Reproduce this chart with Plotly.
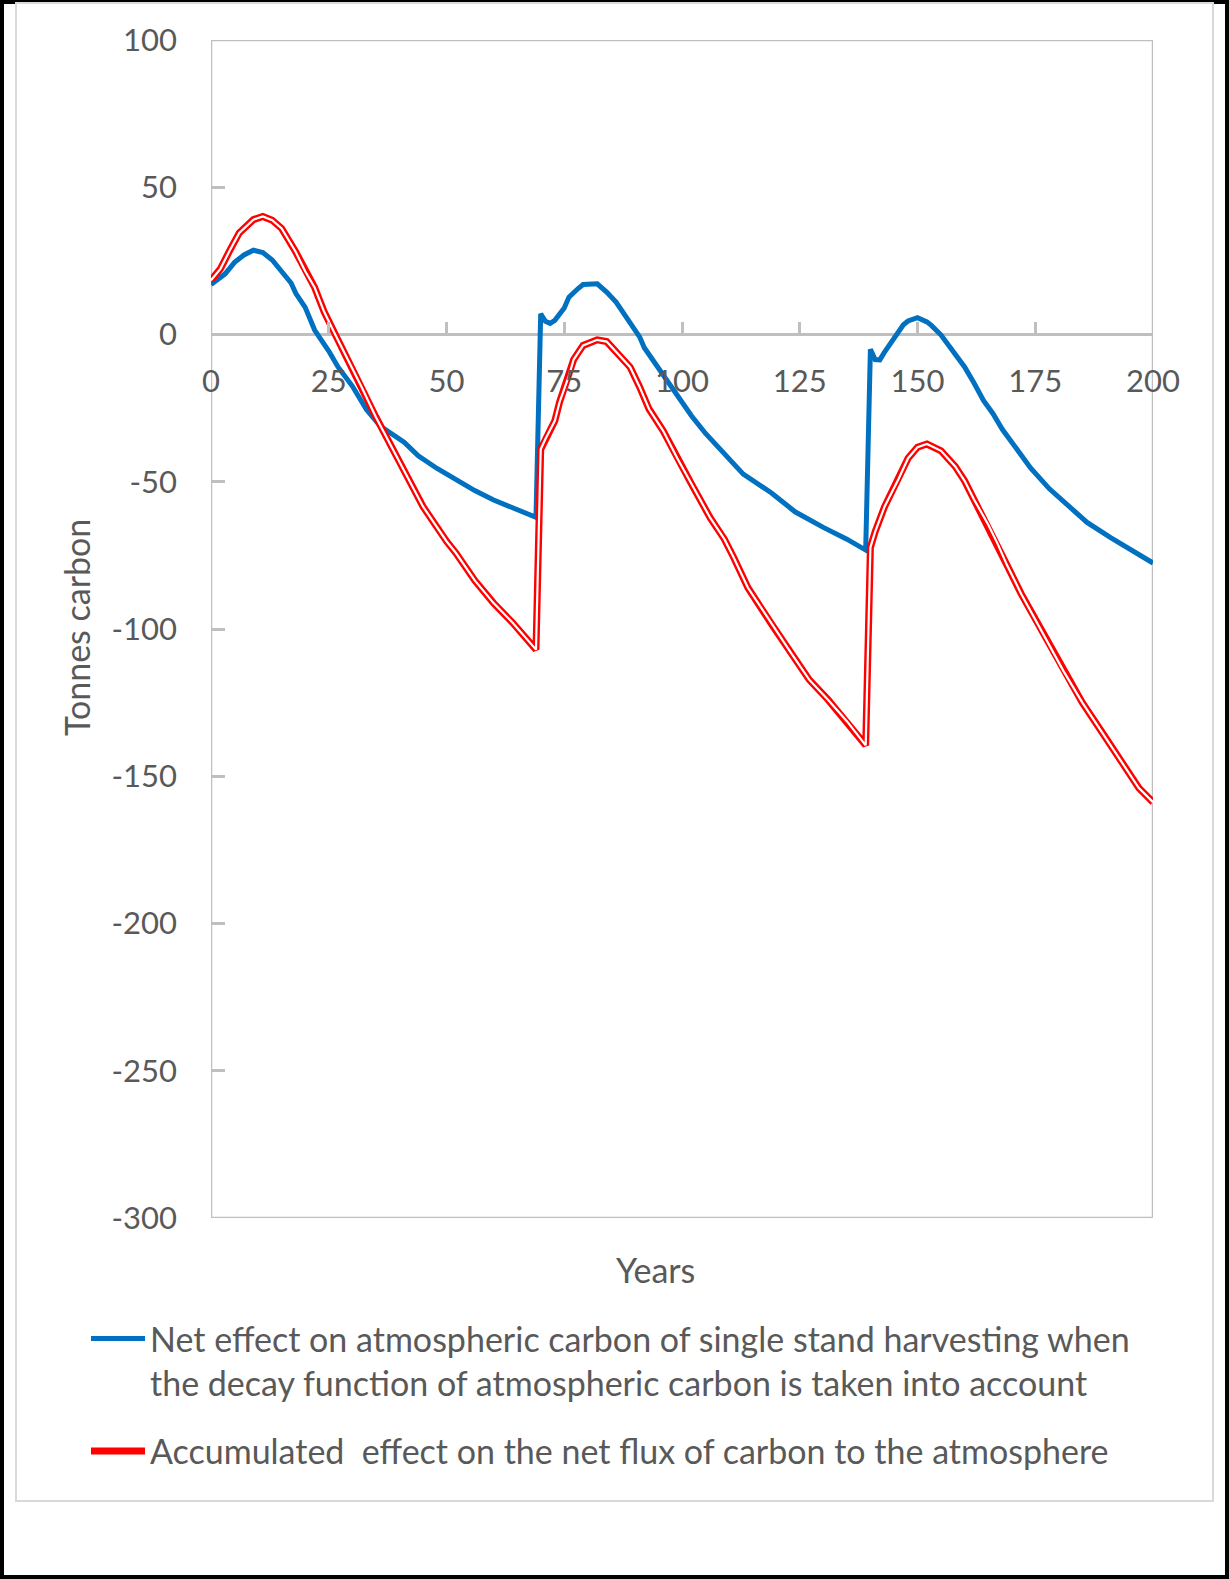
import plotly.graph_objects as go

# ---- data ----
net_years = [0, 3, 5, 7, 9, 11, 13, 15, 17, 18, 20, 22, 25, 27, 29, 30, 33, 36, 41, 44, 48, 52, 56, 60,
             63, 67, 69, 70, 71, 72, 73, 75, 76, 78, 79, 82, 84, 86, 89, 91, 92, 96, 99, 102, 105, 109,
             113, 119, 124, 130, 135, 139, 140, 141, 142, 143, 145, 147, 148, 150, 152, 153, 155, 157,
             160, 162, 164, 166, 168, 171, 174, 178, 182, 186, 191, 196, 200]
net_values = [17.0, 20.6, 24.5, 27.0, 28.6, 27.8, 25.3, 21.2, 17.5, 14.0, 9.2, 1.5, -5.6, -11.1, -15.0,
              -17.5, -25.5, -31.2, -36.6, -41.2, -45.5, -49.2, -53.0, -56.2, -58.2, -60.6, -62.1,
              7.0, 4.5, 3.8, 4.8, 9.0, 12.7, 15.7, 17.0, 17.2, 14.4, 11.0, 3.6, -0.8, -4.5, -13.9,
              -20.3, -27.6, -33.6, -40.8, -47.4, -53.8, -60.2, -65.5, -69.5, -73.2, -5.0, -8.5, -8.6,
              -6.0, -1.0, 3.3, 4.6, 5.7, 4.3, 3.0, -0.2, -4.8, -11.0, -16.5, -22.4, -26.8, -32.2,
              -38.7, -45.3, -52.4, -58.2, -63.8, -69.0, -73.7, -77.6]

acc_years = [0, 2, 4, 6, 9, 11, 13, 15, 18, 20, 22, 24, 26, 29, 31, 32, 35, 40, 45, 50, 52, 56, 60, 64,
             68, 69, 70, 71, 73, 74, 76, 77, 79, 82, 84, 86, 89, 91, 93, 96, 99, 102, 106, 109, 111,
             114, 119, 123, 127, 131, 135, 139, 140, 141, 143, 146, 148, 150, 152, 155, 158, 160, 162,
             165, 167, 169, 172, 177, 181, 185, 190, 194, 197, 200]
acc_values = [18.4, 22.3, 28.6, 34.5, 39.0, 40.1, 38.8, 36.0, 28.0, 21.5, 16.0, 7.8, 1.2, -8.2, -15.0,
              -17.9, -28.0, -43.2, -58.4, -70.2, -74.2, -83.5, -91.2, -97.8, -105.0, -107.0, -39.0,
              -35.5, -29.3, -23.0, -14.0, -8.5, -3.7, -1.8, -2.4, -6.0, -11.1, -17.8, -25.3, -32.7,
              -42.0, -50.7, -62.3, -69.5, -75.8, -86.0, -98.3, -107.8, -117.2, -124.0, -131.3, -139.5,
              -72.3, -67.0, -58.5, -49.0, -42.0, -38.3, -37.2, -39.5, -44.8, -49.7, -56.0, -64.5,
              -71.0, -78.3, -88.0, -102.5, -114.3, -125.0, -137.0, -146.8, -154.0, -158.8]

x_ticks = [0, 25, 50, 75, 100, 125, 150, 175, 200]
y_ticks = [100, 50, 0, -50, -100, -150, -200, -250, -300]

net_name = "Net effect on atmospheric carbon of single stand harvesting when<br>the decay function of atmospheric carbon is taken into account"
acc_name = "Accumulated  effect on the net flux of carbon to the atmosphere"

# ---- geometry (pixels) ----
W, H = 1229, 1579
L, R, T, B = 211, 1153, 40, 1218
pw, ph = R - L, B - T


def px(xp):
    return (xp - L) / pw


def py(yp):
    return (B - yp) / ph


FONT = "Lato"
GREY_TXT = "#595959"
AX = "#BFBFBF"

fig = go.Figure()
fig.add_trace(go.Scatter(x=net_years, y=net_values, mode="lines", name=net_name,
                         legendgroup="net",
                         line=dict(color="#0070C0", width=5)))
fig.add_trace(go.Scatter(x=acc_years, y=acc_values, mode="lines", name=acc_name,
                         legendgroup="acc",
                         line=dict(color="#FF0000", width=7)))
fig.add_trace(go.Scatter(x=acc_years, y=acc_values, mode="lines", showlegend=False,
                         legendgroup="acc", hoverinfo="skip",
                         line=dict(color="#FFFFFF", width=2.2)))

shapes = [
    # outer black frame
    dict(type="rect", xref="paper", yref="paper", x0=px(2), x1=px(1227), y0=py(1577), y1=py(2),
         line=dict(color="black", width=4), layer="below"),
    # chart-area border
    dict(type="rect", xref="paper", yref="paper", x0=px(16), x1=px(1213), y0=py(1501), y1=py(3),
         line=dict(color="#D9D9D9", width=2), layer="below"),
    # plot-area border
    dict(type="rect", xref="x", yref="y", x0=0, x1=200, y0=-300, y1=100,
         line=dict(color=AX, width=2.5), layer="below"),
]

annotations = [
    dict(text="Years", xref="paper", yref="paper", x=px(655), y=py(1269), showarrow=False,
         xanchor="center", yanchor="middle", font=dict(family=FONT, size=34, color=GREY_TXT)),
    dict(text="Tonnes carbon", xref="paper", yref="paper", x=px(76), y=py(628), showarrow=False,
         textangle=-90, xanchor="center", yanchor="middle",
         font=dict(family=FONT, size=34, color=GREY_TXT)),
]

fig.update_layout(
    width=W, height=H,
    margin=dict(l=L, r=W - R, t=T, b=H - B, autoexpand=False),
    paper_bgcolor="white", plot_bgcolor="white",
    font=dict(family=FONT, size=31, color=GREY_TXT),
    shapes=shapes, annotations=annotations,
    showlegend=True,
    legend=dict(x=px(86), y=py(1310), xanchor="left", yanchor="top",
                font=dict(family=FONT, size=34, color=GREY_TXT), valign="top",
                itemwidth=54, tracegroupgap=21, bgcolor="rgba(0,0,0,0)"),
    xaxis=dict(range=[0, 200], tickvals=x_ticks, ticktext=[str(v) for v in x_ticks],
               showgrid=False, zeroline=False, showline=False,
               anchor="free", position=0.75, ticks="inside", ticklen=13, tickwidth=2.5,
               tickcolor=AX, ticklabelstandoff=25,
               tickfont=dict(family=FONT, size=31, color=GREY_TXT)),
    yaxis=dict(range=[-300, 100], tickvals=y_ticks, ticktext=[str(v) for v in y_ticks],
               showgrid=False, zeroline=True, zerolinecolor=AX, zerolinewidth=2.5,
               showline=False, ticks="inside", ticklen=14, tickwidth=2.5, tickcolor=AX,
               ticklabelstandoff=33,
               tickfont=dict(family=FONT, size=31, color=GREY_TXT)),
)

fig.write_html("out.html", config={"displayModeBar": False},
               post_script="document.body.style.margin='0px';document.body.style.overflow='hidden';")
